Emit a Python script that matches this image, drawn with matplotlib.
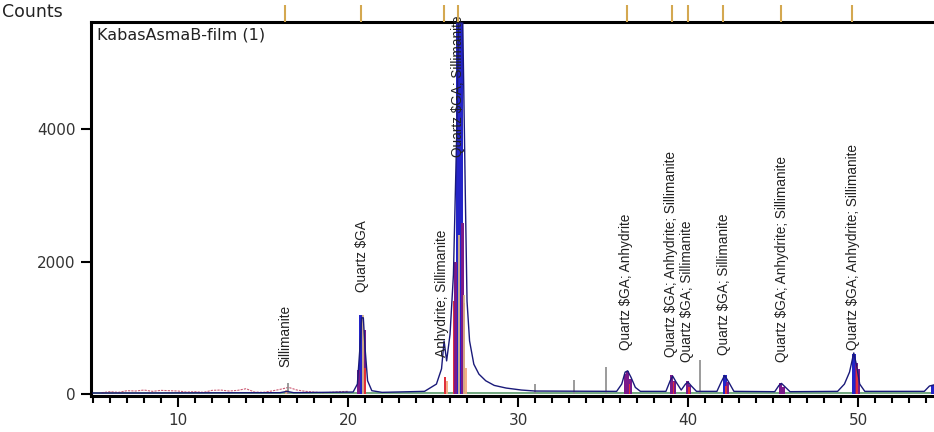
import matplotlib
matplotlib.use("Agg")
import matplotlib.pyplot as plt
import matplotlib.font_manager as fm
from matplotlib.ticker import MultipleLocator, FixedLocator

# ---------------- data ----------------
# calculated profile (navy line)
profile_x = [5.0, 8.0, 12.0, 16.0, 16.4, 16.8, 20.3, 20.55, 20.7, 20.8, 20.9, 21.0, 21.15, 21.4,
             22.0, 24.5, 25.2, 25.5, 25.65, 25.8, 26.0, 26.2, 26.4, 26.5, 26.75, 26.9, 27.0,
             27.15, 27.4, 27.7, 28.1, 28.6, 29.3, 30.2, 31.0, 35.8, 36.1, 36.3, 36.45,
             36.65, 36.9, 37.2, 38.7, 38.95, 39.1, 39.3, 39.6, 39.85, 40.0, 40.2, 40.5,
             41.7, 41.95, 42.15, 42.35, 42.7, 45.1, 45.35, 45.5, 45.7, 46.0, 48.8, 49.2,
             49.5, 49.75, 49.9, 50.1, 50.4, 53.9, 54.2, 54.5]
profile_y = [15, 15, 18, 20, 40, 20, 30, 150, 700, 1150, 1150, 700, 200, 50,
             25, 40, 150, 380, 800, 500, 900, 1800, 4000, 5600, 5600, 3000, 1400,
             800, 450, 300, 200, 130, 90, 60, 45, 40, 150, 330, 350,
             250, 100, 40, 40, 200, 270, 180, 60, 150, 180, 120, 40,
             40, 180, 280, 200, 40, 35, 130, 160, 110, 35, 40, 150,
             330, 620, 450, 150, 40, 40, 120, 140]

# observed intensities (blue)
blue_x = [20.74, 26.5, 26.62, 42.18, 49.78, 54.4]
blue_h = [1190, 5600, 5600, 280, 600, 140]

# quartz contribution (purple)
purple_x = [20.6, 20.94, 26.3, 26.74, 36.3, 36.45, 36.6, 39.05, 39.2, 39.95, 40.1,
            42.3, 45.45, 45.6, 49.9, 50.02]
purple_h = [360, 960, 2000, 2580, 300, 350, 220, 290, 200, 190, 140,
            180, 160, 110, 470, 380]

# anhydrite contribution (red)
red_x = [21.0, 25.7, 26.2, 26.86, 36.55, 39.15, 40.05, 42.25, 49.95]
red_h = [390, 250, 1400, 1370, 150, 180, 110, 120, 420]

# sillimanite contribution (orange fill)
orange_x = [16.4, 20.92, 25.75, 26.3, 26.45, 26.6, 26.75, 26.9, 36.4, 39.1, 40.0,
            42.2, 45.5, 49.85]
orange_h = [60, 300, 200, 700, 920, 920, 900, 400, 150, 120, 90, 110, 80, 250]

# background noise (low angle)
bg_x = [5.5, 6.0, 6.5, 7.0, 7.5, 8.0, 8.5, 9.0, 9.5, 10.0, 10.5, 11.0, 11.5, 12.0,
        12.5, 13.0, 13.5, 14.0, 14.5, 15.0, 15.5, 16.0, 16.5, 17.0, 17.5, 18.0,
        18.5, 19.0, 19.5, 20.0]
bg_y = [20, 35, 25, 50, 45, 60, 40, 55, 50, 45, 30, 35, 25, 55, 60, 45, 55, 80,
        30, 25, 45, 70, 100, 60, 40, 30, 20, 25, 35, 40]

# reference sticks (grey)
stick_x = [16.45, 31.0, 33.3, 35.2, 40.7]
stick_h = [170, 150, 210, 410, 510]

# reference sticks (tan)
tan_x = [20.9, 26.55, 26.8]
tan_h = [1190, 2400, 1500]

# peak markers on top
marker_x = [16.3, 20.76, 25.65, 26.47, 36.4, 39.06, 40.0, 42.06, 45.47, 49.65]

# peak labels
label_x = [16.3, 20.8, 25.55, 26.45, 36.35, 39.0, 39.95, 42.1, 45.5, 49.7]
label_y = [408, 1540, 560, 3580, 665, 560, 480, 590, 480, 665]
label_text = ["Sillimanite", r"Quartz \$GA", "Anhydrite; Sillimanite",
              r"Quartz \$GA; Sillimanite", r"Quartz \$GA; Anhydrite",
              r"Quartz \$GA; Anhydrite; Sillimanite", r"Quartz \$GA; Sillimanite",
              r"Quartz \$GA; Sillimanite", r"Quartz \$GA; Anhydrite; Sillimanite",
              r"Quartz \$GA; Anhydrite; Sillimanite"]

x_ticks = [10, 20, 30, 40, 50]
y_ticks = [0, 2000, 4000]

# ---------------- plot ----------------
names = {f.name for f in fm.fontManager.ttflist}
narrow = "Liberation Sans Narrow" if "Liberation Sans Narrow" in names else "Liberation Sans"

fig = plt.figure(figsize=(9.34, 4.32), dpi=100)
ax = fig.add_axes([91 / 934, 36 / 432, 1 - 91 / 934, (396 - 22) / 432])
ax.set_xlim(4.88, 54.47)
ax.set_ylim(-30, 5615)

# baseline
ax.plot([4.88, 54.47], [8, 8], color="#5a9a6a", lw=1.2, zorder=1)
ax.plot(bg_x, bg_y, color="#c03050", lw=0.8, ls=(0, (2, 1)), alpha=0.8, zorder=2)

ax.bar(orange_x, orange_h, width=0.22, color="#f2a87c", alpha=0.9, zorder=2, linewidth=0)
ax.bar(blue_x, blue_h, width=0.24, color="#2424c8", zorder=3, linewidth=0)
ax.bar(purple_x, purple_h, width=0.18, color="#7a1a8a", zorder=4, linewidth=0)
ax.bar(red_x, red_h, width=0.1, color="#e0303a", zorder=4, linewidth=0)
ax.vlines(tan_x, 0, tan_h, color="#d8b888", lw=1.3, zorder=4)
ax.vlines(stick_x, 0, stick_h, color="#8a8a8a", lw=1.2, zorder=3)
ax.plot(profile_x, profile_y, color="#1a1a7a", lw=1.0, zorder=5)

# top peak markers
ax.vlines(marker_x, 1.0, 1.045, transform=ax.get_xaxis_transform(),
          color="#d4a850", lw=1.5, clip_on=False, zorder=6)

for x, y, t in zip(label_x, label_y, label_text):
    ax.text(x, y, t, rotation=90, ha="center", va="bottom",
            fontsize=9.8, family=[narrow, "DejaVu Sans"], color="#222222", zorder=7)

ax.text(0.007, 0.985, "KabasAsmaB-film (1)", transform=ax.transAxes, ha="left", va="top",
        fontsize=11.5, family="DejaVu Sans", color="#222222")
fig.text(2 / 934, 1 - 17 / 432, "Counts", ha="left", va="baseline",
         fontsize=12.5, family="DejaVu Sans", color="#222222")

for s in ["left", "bottom", "top"]:
    ax.spines[s].set_linewidth(2.2)
    ax.spines[s].set_color("black")
ax.spines["right"].set_visible(False)

ax.xaxis.set_major_locator(FixedLocator(x_ticks))
ax.xaxis.set_minor_locator(MultipleLocator(1))
ax.yaxis.set_major_locator(FixedLocator(y_ticks))
ax.tick_params(axis="x", which="major", length=8, width=1.5, direction="out",
               labelsize=11, labelcolor="#333333", pad=4)
ax.tick_params(axis="x", which="minor", length=5, width=1.5, direction="out")
ax.tick_params(axis="y", which="major", length=7, width=1.5, direction="out",
               labelsize=11, labelcolor="#333333", pad=4)
for lab in ax.get_xticklabels() + ax.get_yticklabels():
    lab.set_family("DejaVu Sans")

fig.savefig("out.png", dpi=100)
